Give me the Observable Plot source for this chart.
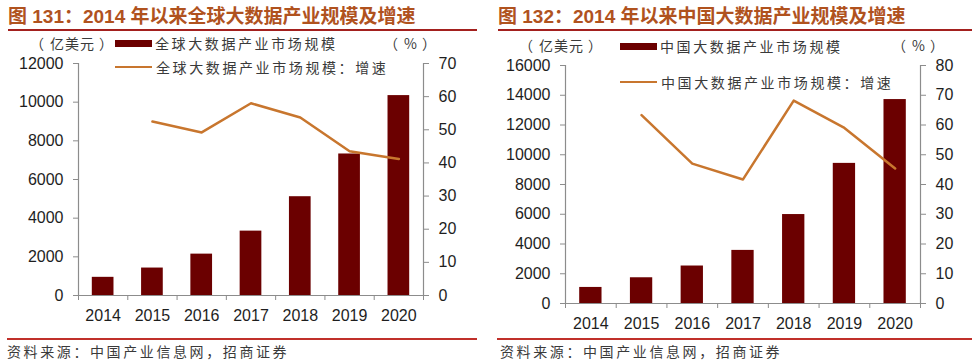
<!DOCTYPE html>
<html><head><meta charset="utf-8">
<script src="https://cdn.jsdelivr.net/npm/d3@7"></script>
<script src="https://cdn.jsdelivr.net/npm/@observablehq/plot@0.6"></script>
<style>
body{margin:0;background:#fff;}
#root{position:relative;width:972px;height:364px;overflow:hidden;font-family:"Liberation Sans","Noto Sans CJK SC",sans-serif;}
.abs{position:absolute;white-space:nowrap;line-height:1;transform:translateY(-50%);}
.title{font-size:19px;font-weight:bold;color:#B0521E;font-family:"Liberation Sans","Noto Sans CJK SC",sans-serif;}
.cn{font-family:"Noto Sans CJK SC",sans-serif;font-size:14px;color:#3a3a3a;letter-spacing:2.6px;}
.unit{font-family:"Noto Sans CJK SC",sans-serif;font-size:14px;color:#3a3a3a;letter-spacing:1px;}
.unit .po{margin-right:5px;} .unit .pc{margin-left:4px;}
.rule{position:absolute;height:2px;}
.sw{position:absolute;}
#root svg{position:absolute;top:0;}
</style>
</head><body>
<div id="root"></div>
<script>
// ---- data ----
const years = ["2014","2015","2016","2017","2018","2019","2020"];
const globalSize = [940, 1420, 2140, 3330, 5110, 7320, 10340];
const globalGrowth = [null, 52.5, 49.2, 58.0, 53.7, 43.5, 41.2];
const chinaSize = [1080, 1730, 2520, 3570, 5980, 9420, 13710];
const chinaGrowth = [null, 63.3, 47.0, 41.7, 68.2, 59.0, 45.4];
const titles = ["图 131：2014 年以来全球大数据产业规模及增速", "图 132：2014 年以来中国大数据产业规模及增速"];
const barLabels = ["全球大数据产业市场规模", "中国大数据产业市场规模"];
const lineLabels = ["全球大数据产业市场规模：增速", "中国大数据产业市场规模：增速"];
const leftUnit = ["（", "亿美元", "）"];
const rightUnit = ["（", "%", "）"];
const source = "资料来源：中国产业信息网，招商证券";

const BAR = "#6B0000", LINE = "#C8762E", AXIS = "#8c8c8c", TXT = "#1e1e1e";
const root = document.getElementById("root");

const panels = [
  {left:0, w:480, h:330, ml:78, mr:57, mt:63, mb:35, ymax:12000, ystep:2000, rmax:70,
   sizes:globalSize, growth:globalGrowth, title:titles[0], barLabel:barLabels[0], lineLabel:lineLabels[0],
   tx:8, ruleL:8, ruleR:477, unitX:30, unitY:43, swX:115, barY:43, lineY:67, pctX:384, srcX:7},
  {left:490, w:482, h:340, ml:75, mr:52, mt:65, mb:37, ymax:16000, ystep:2000, rmax:80,
   sizes:chinaSize, growth:chinaGrowth, title:titles[1], barLabel:barLabels[1], lineLabel:lineLabels[1],
   tx:498, ruleL:498, ruleR:972, unitX:519, unitY:45, swX:620, barY:46, lineY:82, pctX:892, srcX:500}
];

function addText(cls, txt, x, y){
  const d = document.createElement("div");
  d.className = "abs " + cls; d.textContent = txt;
  d.style.left = x + "px"; d.style.top = y + "px";
  root.appendChild(d);
  return d;
}
function addUnit(parts, x, y){
  const d = addText("unit", "", x, y);
  ["po", "", "pc"].forEach((c, i) => {
    const s = document.createElement("span");
    if (c) s.className = c;
    s.textContent = parts[i];
    d.appendChild(s);
  });
}
function addBox(cls, x, y, w, h, color){
  const d = document.createElement("div");
  d.className = cls;
  Object.assign(d.style, {left:x+"px", top:y+"px", width:w+"px", height:h+"px", background:color});
  root.appendChild(d);
}

for (const p of panels) {
  const idx = d3.range(years.length);
  const common = {width:p.w, height:p.h, marginLeft:p.ml, marginRight:p.mr, marginTop:p.mt, marginBottom:p.mb,
    x:{domain:[0, years.length], axis:null},
    style:{fontFamily:"Liberation Sans, Arial, sans-serif", fontSize:"16px", color:TXT, background:"transparent", overflow:"visible"}};
  const bars = Plot.plot({...common,
    y:{domain:[0,p.ymax], axis:null},
    marks:[
      Plot.rectY(idx, {x1:i=>i+0.28, x2:i=>i+0.72, y:i=>p.sizes[i], fill:BAR}),
      Plot.ruleX([0], {stroke:AXIS, strokeWidth:1.2}),
      Plot.ruleY([0], {stroke:AXIS, strokeWidth:1.2}),
      Plot.axisY({ticks:d3.range(0,p.ymax+1,p.ystep), tickSize:5, tickPadding:10, stroke:AXIS, tickFormat:d=>String(d)}),
      Plot.axisX({ticks:d3.range(0,years.length+1), tickSize:5, stroke:AXIS, tickFormat:()=>""}),
      Plot.axisX({ticks:idx.map(i=>i+0.5), tickSize:0, tickPadding:14, tickFormat:v=>years[Math.floor(v)]})
    ]});
  const lines = Plot.plot({...common,
    y:{domain:[0,p.rmax], axis:null},
    marks:[
      Plot.line(idx.filter(i=>p.growth[i]!=null), {x:i=>i+0.5, y:i=>p.growth[i], stroke:LINE, strokeWidth:2.5}),
      Plot.ruleX([years.length], {stroke:AXIS, strokeWidth:1.2}),
      Plot.axisY({anchor:"right", ticks:d3.range(0,p.rmax+1,10), tickSize:5, tickPadding:10, stroke:AXIS})
    ]});
  bars.style.left = p.left + "px";
  lines.style.left = p.left + "px";
  root.appendChild(bars);
  root.appendChild(lines);

  addText("title", p.title, p.tx, 16);
  addBox("rule", p.ruleL, 29, p.ruleR - p.ruleL, 2, "#A3201E");
  addUnit(leftUnit, p.unitX, p.unitY);
  addUnit(rightUnit, p.pctX, p.unitY);
  addBox("sw", p.swX, p.barY - 3.5, 37, 7, BAR);
  addText("cn", p.barLabel, p.swX + 40, p.barY);
  addBox("sw", p.swX, p.lineY - 1.25, 37, 2.5, LINE);
  addText("cn", p.lineLabel, p.swX + 41, p.lineY);
  addBox("rule", p.ruleL - 1, 338, p.ruleR - p.ruleL + 1, 2, "#C0302A");
  addText("cn", source, p.srcX, 351);
}
</script>
</body></html>
